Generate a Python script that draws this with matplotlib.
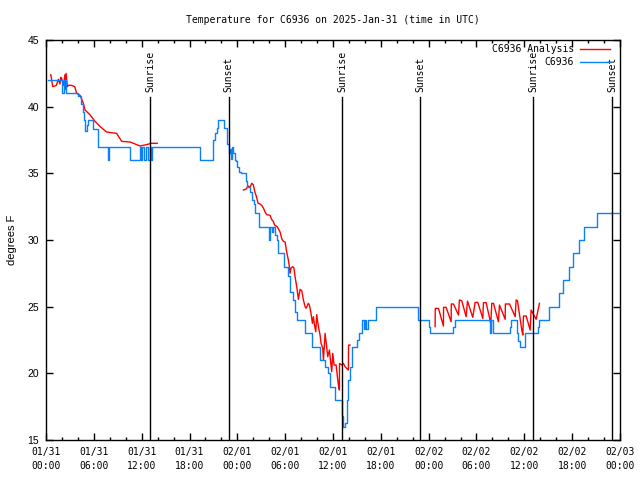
import numpy as np
import matplotlib
matplotlib.use('Agg')
import matplotlib.pyplot as plt

# hours since 2025-01-31 00:00 UTC, temperature in degrees F
obs = [(0.3, 42), (1.95, 41), (2.25, 42), (2.55, 41), (4.05, 40.8), (4.35, 40.2),
       (4.6, 39.6), (4.8, 39), (4.95, 38.2), (5.1, 38.6), (5.3, 39), (5.95, 38.3),
       (6.55, 37), (7.75, 36), (7.95, 37), (10.55, 36), (11.8, 37), (11.95, 36),
       (12.1, 37), (12.3, 36), (12.55, 37), (12.75, 36), (13.0, 37), (13.15, 36),
       (13.35, 37), (19.3, 36), (20.9, 37.5), (21.2, 38), (21.4, 38.4), (21.55, 39),
       (22.35, 38.4), (22.65, 37.2), (22.9, 36.5), (23.1, 36.8), (23.2, 36.1),
       (23.35, 37), (23.5, 36.5), (23.65, 36), (23.8, 35.9), (24.0, 35.5),
       (24.2, 35.1), (24.4, 35), (25.05, 34.4), (25.2, 34), (25.6, 33.6),
       (25.8, 33), (26.1, 32.7), (26.2, 32), (26.75, 31), (28.0, 30), (28.15, 31),
       (28.3, 30.6), (28.5, 31), (28.7, 30.4), (28.95, 30), (29.15, 29),
       (29.8, 28), (30.4, 27.3), (30.6, 26.1), (30.95, 25.5), (31.25, 24.6),
       (31.45, 24), (32.5, 23), (33.35, 22), (34.4, 21), (35.0, 20.5),
       (35.4, 20), (35.65, 19), (36.25, 18), (37.1, 16.8), (37.2, 16),
       (37.5, 16.3), (37.7, 18), (37.9, 19.5), (38.15, 20.5), (38.35, 22),
       (38.95, 22.5), (39.3, 23), (39.7, 24), (39.9, 23.3), (40.05, 24),
       (40.2, 23.3), (40.4, 24), (41.35, 25), (46.6, 24.5), (46.7, 24),
       (48.0, 23.5), (48.2, 23), (51.1, 23.5), (51.3, 24), (55.7, 23),
       (55.85, 24), (56.05, 23), (58.15, 23.5), (58.3, 24), (59.05, 23),
       (59.25, 22.4), (59.5, 22), (60.1, 23), (61.75, 23.5), (61.9, 24),
       (63.05, 25), (64.3, 26), (64.8, 27), (65.6, 28), (66.1, 29), (66.8, 30),
       (67.5, 31), (69.1, 32), (72.0, 32)]

ana_1 = [(0.6, 42.4), (0.85, 41.5), (1.3, 41.6), (1.55, 42.05), (1.75, 41.7),
         (1.85, 42.2), (1.97, 42.1), (2.18, 41.6), (2.38, 42.4), (2.45, 41.3),
         (2.52, 42.5), (2.68, 41.5), (2.8, 41.6), (3.2, 41.6), (3.6, 41.5),
         (3.85, 41.0), (4.27, 40.85), (4.69, 40.25), (4.9, 39.75), (5.5, 39.4),
         (6.15, 38.9), (6.8, 38.5), (7.6, 38.1), (8.85, 38.0), (9.5, 37.4),
         (10.55, 37.35), (11.8, 37.05), (12.6, 37.15), (13.2, 37.25), (13.95, 37.25)]

ana_2 = [(24.76, 33.75), (25.05, 33.8), (25.38, 34.05), (25.6, 33.95), (25.8, 34.25),
         (26.0, 34.15), (26.2, 33.6), (26.4, 33.25), (26.6, 32.75), (26.85, 32.7),
         (27.06, 32.6), (27.27, 32.4), (27.48, 32.1), (27.69, 31.9), (28.1, 31.85),
         (28.3, 31.55), (28.5, 31.4), (28.7, 31.1), (29.0, 31.0), (29.36, 30.6),
         (29.57, 30.1), (29.78, 29.9), (29.99, 29.85), (30.19, 29.1), (30.4, 28.5),
         (30.53, 28.0), (30.61, 27.5), (30.74, 27.9), (30.95, 28.0), (31.1, 27.9),
         (31.24, 27.25), (31.45, 26.5), (31.66, 25.55), (31.87, 26.3), (32.08, 26.2),
         (32.29, 25.5), (32.5, 25.0), (32.62, 24.88), (32.91, 25.25), (33.04, 25.12),
         (33.21, 24.62), (33.42, 23.75), (33.54, 24.25), (33.67, 23.63), (33.84, 23.12),
         (33.96, 24.4), (34.17, 23.5), (34.38, 22.87), (34.5, 22.25), (34.71, 21.9),
         (34.8, 21.0), (35.01, 23.0), (35.22, 21.9), (35.34, 21.25), (35.55, 21.75),
         (35.72, 20.75), (35.84, 20.12), (35.97, 21.5), (36.14, 20.62), (36.39, 20.62),
         (36.55, 19.75), (36.68, 19.12), (36.8, 18.75), (36.82, 20.75), (37.1, 20.62),
         (37.3, 20.75), (37.52, 20.5), (37.72, 20.37), (37.93, 20.25), (37.95, 22.12),
         (38.14, 22.12)]

ana_3 = [(48.81, 23.5), (48.83, 24.87), (49.23, 24.87), (49.85, 23.55), (49.87, 24.95),
         (50.19, 24.95), (50.82, 23.87), (50.84, 25.2), (51.11, 25.2), (51.74, 24.37),
         (51.86, 25.5), (52.15, 25.45), (52.7, 24.25), (52.87, 25.42), (53.53, 24.2),
         (53.83, 25.32), (54.16, 25.32), (54.79, 24.12), (54.87, 25.3), (55.21, 25.3),
         (55.79, 23.75), (55.92, 25.25), (56.13, 25.25), (56.75, 23.87), (56.88, 25.12),
         (57.6, 24.05), (57.62, 25.2), (58.14, 25.2), (58.85, 24.25), (58.97, 25.5),
         (59.14, 25.45), (59.68, 23.25), (59.81, 22.87), (59.89, 24.3), (60.23, 24.3),
         (60.73, 23.25), (60.85, 24.75), (61.48, 24.05), (61.9, 25.25)]

sunrise = [13.07, 37.15, 61.1]
sunset = [22.9, 46.95, 71.0]

xtick_hours = list(range(0, 73, 6))
xtick_labels = ['01/31\n00:00', '01/31\n06:00', '01/31\n12:00', '01/31\n18:00',
                '02/01\n00:00', '02/01\n06:00', '02/01\n12:00', '02/01\n18:00',
                '02/02\n00:00', '02/02\n06:00', '02/02\n12:00', '02/02\n18:00',
                '02/03\n00:00']
yticks = [15, 20, 25, 30, 35, 40, 45]

mono = 'DejaVu Sans Mono'
sans = 'Liberation Sans'
red = '#ff0000'
blue = '#0a80ff'

fig = plt.figure(figsize=(6.4, 4.8), dpi=100)
ax = fig.add_axes([46 / 640, 40 / 480, 574 / 640, 400 / 480])

for i, seg in enumerate([ana_1, ana_2, ana_3]):
    t, v = zip(*seg)
    ax.plot(t, v, color=red, lw=1.0, label='C6936 Analysis' if i == 0 else None)

t, v = zip(*obs)
ax.plot(t, v, color=blue, lw=1.0, drawstyle='steps-post', label='C6936')

# sunrise / sunset markers
for hours, name in [(sunrise, 'Sunrise'), (sunset, 'Sunset')]:
    for h in hours:
        ax.plot([h, h], [0, 0.8575], transform=ax.get_xaxis_transform(),
                color='black', lw=1.0)
        ax.text(h, 0.87, name, rotation=90, ha='center', va='bottom',
                transform=ax.get_xaxis_transform(), family=mono, fontsize=7)

ax.set_xlim(0, 72)
ax.set_ylim(15, 45)
ax.set_xticks(xtick_hours)
ax.set_xticklabels(xtick_labels, family=mono, fontsize=7)
ax.set_xticks(np.arange(0, 73, 2), minor=True)
ax.set_yticks(yticks)
ax.set_yticklabels([str(y) for y in yticks], family=sans, fontsize=7.5)
for lab in ax.get_xticklabels():
    lab.set_linespacing(1.45)

ax.tick_params(which='both', direction='in', top=True, right=True, width=1.0)
ax.tick_params(which='major', length=5)
ax.tick_params(which='minor', length=2.5)
ax.tick_params(axis='x', pad=5)
ax.tick_params(axis='y', pad=5)
for s in ax.spines.values():
    s.set_linewidth(1.0)

ax.set_ylabel('degrees F', family=sans, fontsize=8)
ax.yaxis.set_label_coords(-0.05, 0.5)

fig.text(333 / 640, 1 - 20 / 480, 'Temperature for C6936 on 2025-Jan-31 (time in UTC)',
         ha='center', va='center', family=mono, fontsize=7)

ax.legend(loc='upper right', bbox_to_anchor=(0.9826, 0.99), frameon=False,
          markerfirst=False, prop={'family': mono, 'size': 7}, handlelength=3.1,
          handletextpad=0.6, borderpad=0, borderaxespad=0, labelspacing=0.3)

fig.savefig('out.png', dpi=100)
